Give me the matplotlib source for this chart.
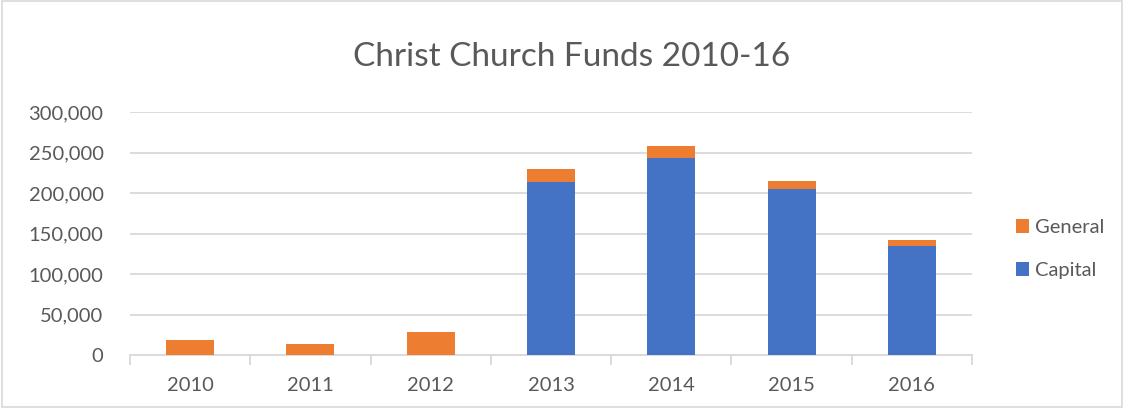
import matplotlib
matplotlib.use("Agg")
import matplotlib.pyplot as plt
import numpy as np
from matplotlib.patches import Rectangle
from matplotlib.ticker import FuncFormatter, FixedLocator

years = ["2010", "2011", "2012", "2013", "2014", "2015", "2016"]
capital = [0, 0, 0, 213000, 243500, 205500, 134000]
general = [18500, 13500, 28000, 16500, 14000, 9500, 7500]
yticks = [0, 50000, 100000, 150000, 200000, 250000, 300000]

plt.rcParams['font.family'] = ['Lato', 'DejaVu Sans']
txt = '#595959'

fig = plt.figure(figsize=(11.24, 4.08), dpi=100)
ax = fig.add_axes([130/1124, 1-355/408, (972-130)/1124, (355-112)/408])

x = np.arange(len(years))
ax.bar(x, capital, width=0.4, color='#4472C4', label='Capital', zorder=3)
ax.bar(x, general, width=0.4, bottom=capital, color='#ED7D31', label='General', zorder=3)

ax.set_xlim(-0.5, len(years)-0.5)
ax.set_ylim(0, 300000)
ax.set_yticks(yticks)
ax.yaxis.set_major_formatter(FuncFormatter(lambda v, p: f"{int(v):,}"))
ax.set_xticks(x)
ax.set_xticklabels(years)
ax.xaxis.set_minor_locator(FixedLocator(np.arange(-0.5, len(years), 1.0)))
ax.tick_params(axis='x', which='major', length=0, pad=16, labelsize=14.5, labelcolor=txt)
ax.tick_params(axis='x', which='minor', length=7, color='#d9d9d9', width=1.3)
ax.tick_params(axis='y', length=0, pad=19, labelsize=14.5, labelcolor=txt)
for lbl in ax.get_yticklabels():
    lbl.set_horizontalalignment('right')
ax.grid(axis='y', color='#d9d9d9', linewidth=1.3, zorder=0)
for s in ['top', 'right', 'left']:
    ax.spines[s].set_visible(False)
ax.spines['bottom'].set_color('#d9d9d9')
ax.spines['bottom'].set_linewidth(1.3)

fig.text(572/1124, 1-57/408, "Christ Church Funds 2010-16", ha='center', va='center',
         fontsize=24, color=txt)

h, l = ax.get_legend_handles_labels()
leg = fig.legend(h[::-1], l[::-1], loc='center left', bbox_to_anchor=(998/1124, 1-249/408),
                 frameon=False, fontsize=14.5, labelcolor=txt, handlelength=0.65,
                 handleheight=0.65, handletextpad=0.3, labelspacing=1.3)

fig.patches.append(Rectangle((0.002, 0.003), 0.996, 0.994, transform=fig.transFigure,
                             fill=False, edgecolor='#d9d9d9', linewidth=1.2))

fig.savefig("out.png", dpi=100)
